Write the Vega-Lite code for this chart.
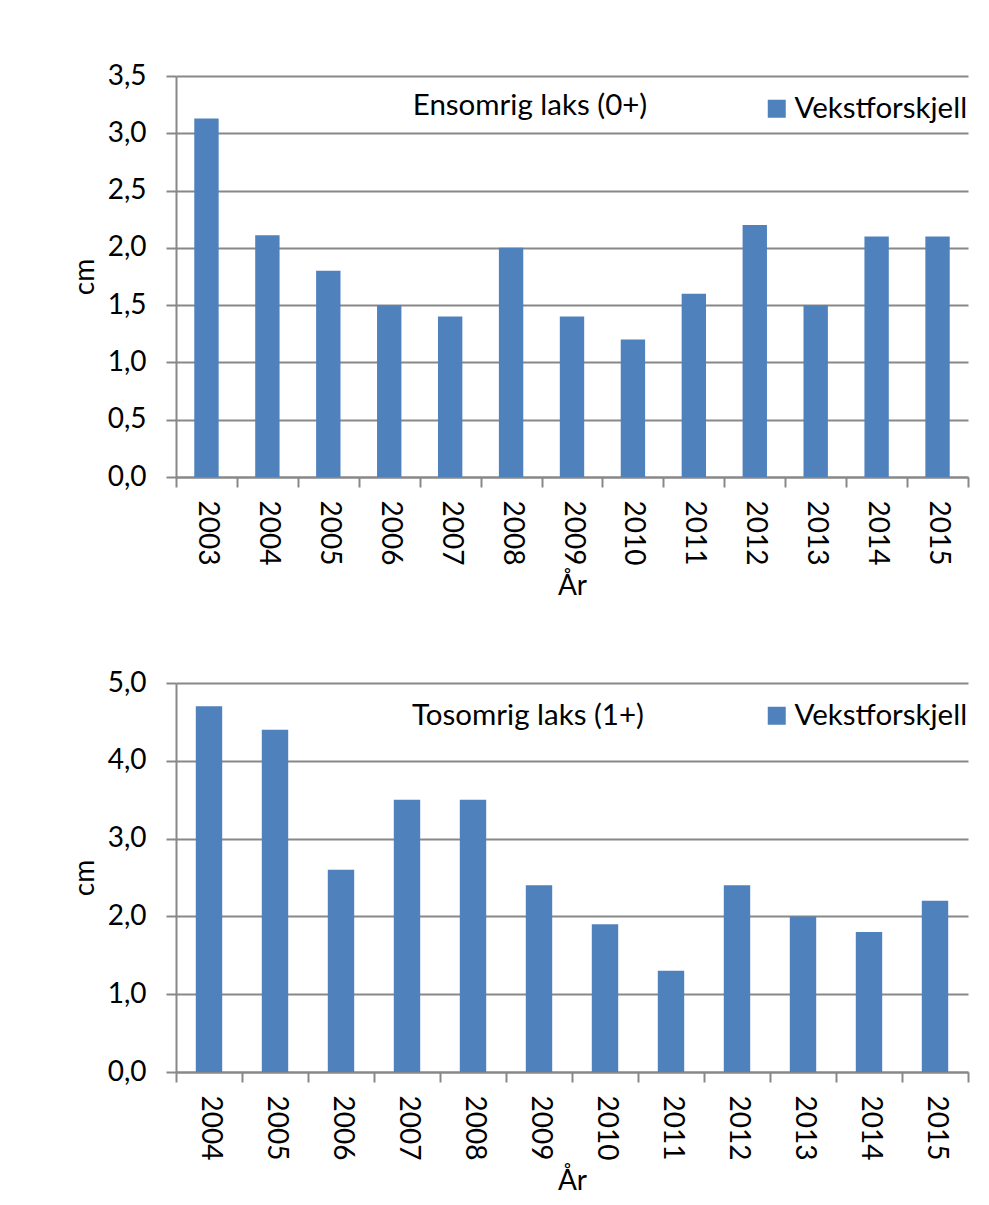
{
  "$schema": "https://vega.github.io/schema/vega-lite/v6.json",
  "background": "white",
  "padding": {"left": 71, "top": 62, "right": 5, "bottom": 5},
  "spacing": 68,
  "resolve": {"scale": {"fill": "independent"}, "legend": {"fill": "independent"}},
  "config": {
    "font": "Lato",
    "view": {"stroke": null},
    "axis": {
      "labelFont": "Lato", "labelFontSize": 28, "labelColor": "black",
      "titleFont": "Lato", "titleFontSize": 28, "titleFontWeight": "normal", "titleColor": "black",
      "domainColor": "#888888", "domainWidth": 2,
      "tickColor": "#888888", "tickWidth": 2, "tickSize": 10,
      "gridColor": "#888888", "gridWidth": 2
    },
    "legend": {
      "labelFont": "Lato", "labelFontSize": 29.5, "labelColor": "black", "labelLimit": 0,
      "symbolType": "square", "symbolSize": 324, "symbolStrokeWidth": 0,
      "labelOffset": 3, "padding": 0
    },
    "title": {"font": "Lato", "fontSize": 29.5, "fontWeight": "normal", "color": "black"}
  },
  "vconcat": [
    {
      "width": 792, "height": 401,
      "title": {"text": "Ensomrig laks (0+)", "anchor": "middle", "offset": -73, "dx": -42, "baseline": "middle"},
      "data": {"values": [
        {"year": "2003", "cm": 3.13, "serie": "Vekstforskjell"},
        {"year": "2004", "cm": 2.11, "serie": "Vekstforskjell"},
        {"year": "2005", "cm": 1.8, "serie": "Vekstforskjell"},
        {"year": "2006", "cm": 1.5, "serie": "Vekstforskjell"},
        {"year": "2007", "cm": 1.4, "serie": "Vekstforskjell"},
        {"year": "2008", "cm": 2.0, "serie": "Vekstforskjell"},
        {"year": "2009", "cm": 1.4, "serie": "Vekstforskjell"},
        {"year": "2010", "cm": 1.2, "serie": "Vekstforskjell"},
        {"year": "2011", "cm": 1.6, "serie": "Vekstforskjell"},
        {"year": "2012", "cm": 2.2, "serie": "Vekstforskjell"},
        {"year": "2013", "cm": 1.5, "serie": "Vekstforskjell"},
        {"year": "2014", "cm": 2.1, "serie": "Vekstforskjell"},
        {"year": "2015", "cm": 2.1, "serie": "Vekstforskjell"}
      ]},
      "mark": {"type": "bar", "width": {"band": 0.4}},
      "encoding": {
        "x": {"field": "year", "type": "ordinal",
          "scale": {"paddingInner": 0, "paddingOuter": 0},
          "axis": {"title": "År", "labelAngle": 90, "labelAlign": "left", "labelBaseline": "middle",
            "tickBand": "extent", "labelPadding": 13, "titlePadding": 8, "grid": false}},
        "y": {"field": "cm", "type": "quantitative",
          "scale": {"domain": [0, 3.5], "nice": false},
          "axis": {"title": "cm", "values": [0, 0.5, 1, 1.5, 2, 2.5, 3, 3.5],
            "labelExpr": "replace(format(datum.value, '.1f'), '.', ',')",
            "grid": true, "labelPadding": 20, "titlePadding": 8}},
        "fill": {"field": "serie", "type": "nominal",
          "scale": {"range": ["#4F81BD"]},
          "legend": {"title": null, "orient": "none", "legendX": 586, "legendY": 18}}
      }
    },
    {
      "width": 792, "height": 389,
      "title": {"text": "Tosomrig laks (1+)", "anchor": "middle", "offset": -76, "dx": -44, "baseline": "middle"},
      "data": {"values": [
        {"year": "2004", "cm": 4.7, "serie": "Vekstforskjell"},
        {"year": "2005", "cm": 4.4, "serie": "Vekstforskjell"},
        {"year": "2006", "cm": 2.6, "serie": "Vekstforskjell"},
        {"year": "2007", "cm": 3.5, "serie": "Vekstforskjell"},
        {"year": "2008", "cm": 3.5, "serie": "Vekstforskjell"},
        {"year": "2009", "cm": 2.4, "serie": "Vekstforskjell"},
        {"year": "2010", "cm": 1.9, "serie": "Vekstforskjell"},
        {"year": "2011", "cm": 1.3, "serie": "Vekstforskjell"},
        {"year": "2012", "cm": 2.4, "serie": "Vekstforskjell"},
        {"year": "2013", "cm": 2.0, "serie": "Vekstforskjell"},
        {"year": "2014", "cm": 1.8, "serie": "Vekstforskjell"},
        {"year": "2015", "cm": 2.2, "serie": "Vekstforskjell"}
      ]},
      "mark": {"type": "bar", "width": {"band": 0.4}},
      "encoding": {
        "x": {"field": "year", "type": "ordinal",
          "scale": {"paddingInner": 0, "paddingOuter": 0},
          "axis": {"title": "År", "labelAngle": 90, "labelAlign": "left", "labelBaseline": "middle",
            "tickBand": "extent", "labelPadding": 13, "titlePadding": 8, "grid": false}},
        "y": {"field": "cm", "type": "quantitative",
          "scale": {"domain": [0, 5], "nice": false},
          "axis": {"title": "cm", "values": [0, 1, 2, 3, 4, 5],
            "labelExpr": "replace(format(datum.value, '.1f'), '.', ',')",
            "grid": true, "labelPadding": 20, "titlePadding": 8}},
        "fill": {"field": "serie", "type": "nominal",
          "scale": {"range": ["#4F81BD"]},
          "legend": {"title": null, "orient": "none", "legendX": 586, "legendY": 18}}
      }
    }
  ]
}
